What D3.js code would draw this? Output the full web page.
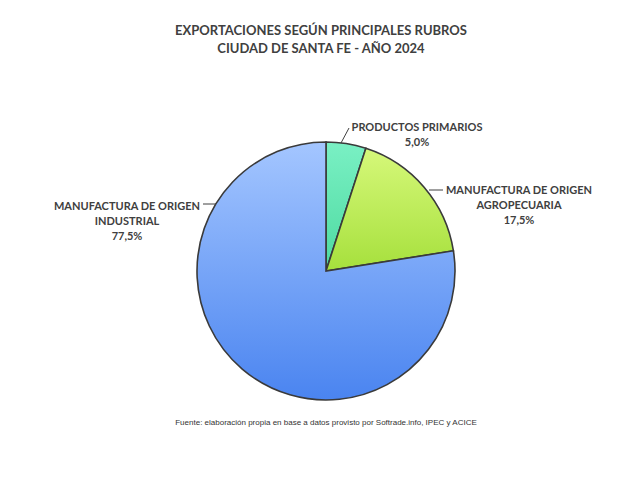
<!DOCTYPE html><html><head><meta charset="utf-8"><script src="https://cdn.jsdelivr.net/npm/d3@7"></script>
<style>body{margin:0;background:#fff}text{font-family:Lato,sans-serif;fill:#404040}</style></head><body><svg id="c" width="642" height="484"></svg><script>
const categories=["PRODUCTOS PRIMARIOS","MANUFACTURA DE ORIGEN AGROPECUARIA","MANUFACTURA DE ORIGEN INDUSTRIAL"];
const values=[5.0,17.5,77.5];
const labels=[["PRODUCTOS PRIMARIOS","5,0%"],["MANUFACTURA DE ORIGEN","AGROPECUARIA","17,5%"],["MANUFACTURA DE ORIGEN","INDUSTRIAL","77,5%"]];
const colors=[["#7af0c4","#4ddaa0"],["#d6f87a","#a6e03c"],["#a4c6ff","#4a84f0"]];
const svg=d3.select("#c"),cx=326,cy=271,r=129;
const defs=svg.append("defs");
colors.forEach((c,i)=>{const g=defs.append("linearGradient").attr("id","g"+i).attr("x1",0).attr("y1",0).attr("x2",0).attr("y2",1);
g.append("stop").attr("offset",0).attr("stop-color",c[0]);g.append("stop").attr("offset",1).attr("stop-color",c[1]);});
svg.append("text").attr("x",321).attr("y",35).attr("text-anchor","middle").style("font-weight","bold").style("font-size","13px").text("EXPORTACIONES SEGÚN PRINCIPALES RUBROS");
svg.append("text").attr("x",321).attr("y",53).attr("text-anchor","middle").style("font-weight","bold").style("font-size","13px").text("CIUDAD DE SANTA FE - AÑO 2024");
const pie=d3.pie().sort(null)(values);
const arc=d3.arc().innerRadius(0).outerRadius(r);
const g=svg.append("g").attr("transform",`translate(${cx},${cy})`);
g.selectAll("path").data(pie).join("path").attr("d",arc).attr("fill",(d,i)=>`url(#g${i})`).attr("stroke","#3a3a3a").attr("stroke-width",1.6);
const lp=[{x:417,y:127,a:"middle",l:[[341,143],[349,128]]},{x:519,y:190,a:"middle",l:[[429,190],[443,190]]},{x:127,y:206,a:"middle",l:[[203,204],[216,204]]}];
lp.forEach((p,i)=>{svg.append("polyline").attr("points",p.l.map(q=>q.join(",")).join(" ")).attr("fill","none").attr("stroke","#404040").attr("stroke-width",1);
labels[i].forEach((t,j)=>svg.append("text").attr("x",p.x).attr("y",p.y+4+j*15).attr("text-anchor",p.a).style("font-weight","bold").style("font-size","11px").text(t));});
svg.append("text").attr("x",326).attr("y",425).attr("text-anchor","middle").style("font-family","Liberation Sans,Arial").style("font-size","8px").style("fill","#333").text("Fuente: elaboración propia en base a datos provisto por Softrade.info, IPEC y ACICE");
</script></body></html>
